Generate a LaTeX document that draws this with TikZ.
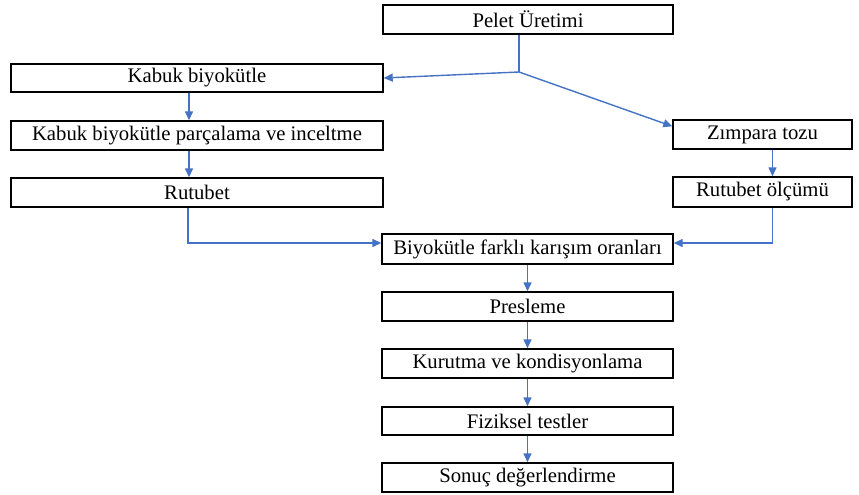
\documentclass[tikz,border=0pt]{standalone}
\usepackage{fontspec}
\setmainfont{Liberation Serif}
\usetikzlibrary{arrows.meta}
\definecolor{arrblue}{RGB}{68,114,196}
\begin{document}
\begin{tikzpicture}[x=1pt,y=-1pt,
  box/.style={draw=black, line width=1.4pt, inner sep=0pt, anchor=center,
    font=\fontsize{20.7}{22}\selectfont},
  arr/.style={draw=arrblue, line width=1.4pt, -{Triangle[length=9pt,width=8pt]}},
]
\useasboundingbox (0,0) rectangle (859,495);
\node[box, minimum width=290pt, minimum height=29pt] (pelet) at (528,19.5) {Pelet Üretimi};
\node[box, minimum width=372pt, minimum height=28pt] (kabuk) at (197,78) {Kabuk biyokütle};
\node[box, minimum width=372pt, minimum height=29pt] (parca) at (197,135.5) {Kabuk biyokütle parçalama ve inceltme};
\node[box, minimum width=372pt, minimum height=29pt] (rutubet) at (197,192.5) {Rutubet};
\node[box, minimum width=179pt, minimum height=29pt] (zimpara) at (762.5,134.5) {Zımpara tozu};
\node[box, minimum width=179pt, minimum height=30pt] (olcum) at (762.5,192) {Rutubet ölçümü};
\node[box, minimum width=291pt, minimum height=30pt] (biyo) at (527.5,249) {Biyokütle farklı karışım oranları};
\node[box, minimum width=291pt, minimum height=29pt] (pres) at (527.5,306.5) {Presleme};
\node[box, minimum width=291pt, minimum height=29pt] (kuru) at (527.5,363.5) {Kurutma ve kondisyonlama};
\node[box, minimum width=291pt, minimum height=28pt] (fiz) at (527.5,421) {Fiziksel testler};
\node[box, minimum width=291pt, minimum height=29pt] (sonuc) at (527.5,477.5) {Sonuç değerlendirme};
\coordinate (j) at (519,72);
\draw[draw=arrblue, line width=1.4pt] ([xshift=-9pt]pelet.south) -- (j);
\draw[arr] (j) -- (kabuk.east);
\draw[arr] (j) -- ([yshift=-7pt]zimpara.north west);
\draw[arr] ([xshift=-8pt]kabuk.south) -- ([xshift=-8pt]parca.north);
\draw[arr] ([xshift=-8pt]parca.south) -- ([xshift=-8pt]rutubet.north);
\draw[arr] ([xshift=10pt]zimpara.south) -- ([xshift=10pt]olcum.north);
\draw[arr] ([xshift=-9pt]rutubet.south) |- ([yshift=6pt]biyo.west);
\draw[arr] ([xshift=10pt]olcum.south) |- ([yshift=6pt]biyo.east);
\draw[arr] (biyo) -- (pres);
\draw[arr] (pres) -- (kuru);
\draw[arr] (kuru) -- (fiz);
\draw[arr] (fiz) -- (sonuc);
\end{tikzpicture}
\end{document}
